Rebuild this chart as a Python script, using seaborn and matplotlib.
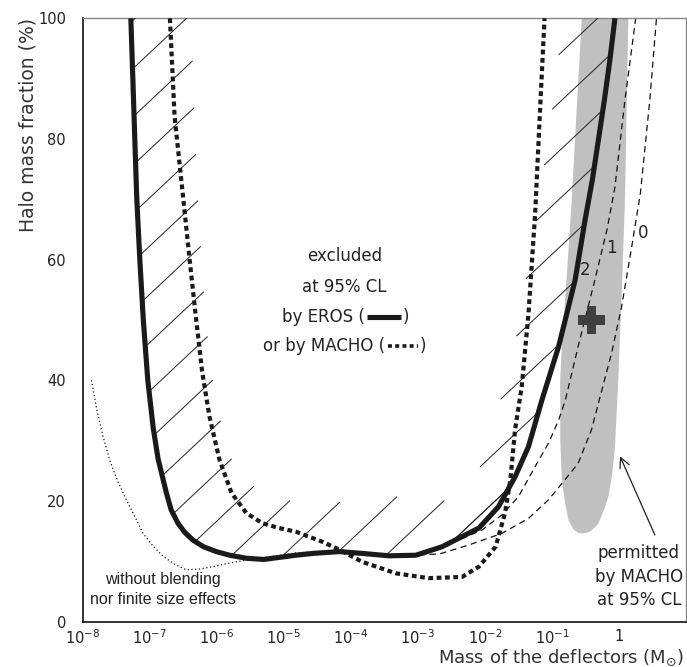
import numpy as np
import pandas as pd
import matplotlib
matplotlib.use("Agg")
import matplotlib.pyplot as plt
from matplotlib.ticker import NullLocator, FixedLocator, FixedFormatter
import seaborn as sns

# ---------------- data (log10 of mass in solar masses, halo fraction in %) ----------------
eros_logm = [-7.283, -7.253, -7.224, -7.194, -7.149, -7.097, -7.030, -6.948, -6.877, -6.752,
             -6.681, -6.580, -6.480, -6.356, -6.197, -6.008, -5.81, -5.562, -5.30, -4.82,
             -4.57, -4.17, -3.83, -3.43, -3.03, -2.64, -2.09, -1.80, -1.55, -1.35, -1.15,
             -0.90, -0.654, -0.505, -0.397, -0.307, -0.218, -0.136, -0.06]
eros_frac = [100, 90, 80, 70, 60, 50, 40, 32, 27, 21.3,
             18.5, 16.3, 14.8, 13.5, 12.4, 11.6, 11.0, 10.5, 10.3, 11.0,
             11.3, 11.6, 11.3, 10.9, 11.0, 12.4, 15.5, 19.0, 24.0, 29.0, 36.7,
             45.6, 56.6, 66.6, 73.2, 79.8, 86.4, 93.0, 100]

macho_logm = [-6.70, -6.63, -6.50, -6.40, -6.33, -6.22, -6.11, -5.96, -5.78, -5.56, -5.32,
              -5.07, -4.82, -4.42, -4.17, -3.83, -3.33, -2.84, -2.34, -2.09, -1.84, -1.70,
              -1.62, -1.55, -1.45, -1.35, -1.25, -1.17, -1.11]
macho_frac = [100, 83.7, 70, 59.4, 52.2, 41.5, 34, 26.8, 21.3, 18, 16.3,
              15.5, 14.9, 13.2, 11.9, 9.9, 8.0, 7.2, 7.4, 9.1, 12.4, 18,
              23.5, 31.8, 39, 51, 67.7, 86.5, 100]

noblend_logm = [-7.87, -7.83, -7.79, -7.70, -7.60, -7.48, -7.35, -7.22, -7.10, -6.95, -6.80,
                -6.63, -6.46, -6.26, -6.06, -5.81, -5.56, -5.30, -4.82, -4.40]
noblend_frac = [40, 37.5, 35.1, 30.8, 26.8, 23.3, 20.2, 17.3, 14.6, 12.5, 10.8,
                9.5, 8.6, 8.7, 9.1, 9.7, 10.2, 10.6, 11.4, 11.6]

curve0_logm = [-3.30, -2.68, -2.24, -1.75, -1.35, -1.05, -0.85, -0.61, -0.41, -0.24, -0.11,
               0.04, 0.19, 0.32, 0.46, 0.56]
curve0_frac = [10.9, 11.2, 12.7, 14.6, 17.1, 20.2, 22.9, 26.2, 31.8, 39, 44.5,
               52.2, 62.1, 71, 86.4, 100]

curve1_logm = [-2.50, -2.04, -1.745, -1.50, -1.25, -1.05, -0.90, -0.80, -0.60, -0.36, -0.18,
               -0.06, 0.09, 0.25]
curve1_frac = [13.0, 15.2, 17.7, 20.7, 25.7, 29.6, 33.4, 36.7, 46.0, 56.6, 64.9,
               72, 86.5, 100]

permitted_logm = [-0.555, -0.63, -0.704, -0.78, -0.853, -0.877, -0.875, -0.853, -0.80, -0.753,
                  -0.68, -0.61, -0.555, -0.49, -0.42, -0.36, -0.307, -0.23, -0.158, -0.10,
                  -0.059, -0.01, 0.04, 0.09, 0.14]
permitted_frac = [100, 85, 70, 57, 45.6, 40, 30, 23.5, 19.5, 16.8,
                  15.3, 14.7, 14.6, 14.7, 15.0, 15.6, 16.3, 18.3, 20.7, 24.5,
                  29, 40, 53.9, 69.9, 100]

best_logm = [-0.41]
best_frac = [50]

curve_labels = ["2", "1", "0"]
curve_label_logm = [-0.50, -0.11, 0.36]
curve_label_frac = [58.2, 61.9, 64.4]

xtick_exp = [-8, -7, -6, -5, -4, -3, -2, -1, 0, 1]
xtick_labels = [r"$10^{-8}$", r"$10^{-7}$", r"$10^{-6}$", r"$10^{-5}$", r"$10^{-4}$",
                r"$10^{-3}$", r"$10^{-2}$", r"$10^{-1}$", "1", ""]
ytick_vals = [0, 20, 40, 60, 80, 100]
ytick_labels = ["0", "20", "40", "60", "80", "100"]


def m(logs):
    return np.power(10.0, np.asarray(logs, dtype=float))


sns.set_theme(style="white")
plt.rcParams['font.family'] = ['DejaVu Sans']
plt.rcParams['mathtext.fontset'] = 'dejavusans'

fig = plt.figure(figsize=(6.87, 6.67), dpi=100)
ax = fig.add_axes([0.1205, 0.0681, 0.878, 0.9045])
ax.set_xscale('log')
ax.set_xlim(1e-8, 1e1)
ax.set_ylim(0, 100)

# permitted region (grey)
ax.fill(m(permitted_logm), permitted_frac, color='#c0c0c0', lw=0, zorder=1)

# thin theoretical curves
sns.lineplot(x=m(noblend_logm), y=noblend_frac, ax=ax, sort=False, estimator=None,
             color='#111111', lw=0.9, linestyle=(0, (1, 2)), zorder=2)
sns.lineplot(x=m(curve0_logm), y=curve0_frac, ax=ax, sort=False, estimator=None,
             color='#111111', lw=0.9, linestyle=(0, (5, 3.5)), zorder=2)
sns.lineplot(x=m(curve1_logm), y=curve1_frac, ax=ax, sort=False, estimator=None,
             color='#111111', lw=0.9, linestyle=(0, (5, 3.5)), zorder=2)

# MACHO (thick dotted) and EROS (thick solid)
macho_style = dict(color='#1a1a1a', lw=3.0, linestyle=(0, (1.15, 0.85)))
eros_style = dict(color='#1a1a1a', lw=3.7, solid_capstyle='butt', solid_joinstyle='round')
sns.lineplot(x=m(macho_logm), y=macho_frac, ax=ax, sort=False, estimator=None,
             zorder=4, **macho_style)
sns.lineplot(x=m(eros_logm), y=eros_frac, ax=ax, sort=False, estimator=None,
             zorder=5, **eros_style)

# best-fit cross
sns.scatterplot(x=m(best_logm), y=best_frac, ax=ax, marker='P', s=20 ** 2,
                color='#404040', edgecolor='none', zorder=6)

# ---------- hatching of the EROS excluded region (segments starting on the contour) ----------
slope = 0.94
spacing = 48.3
seg_len = 80.0
pts = ax.transData.transform(np.c_[m(eros_logm), eros_frac])
d0 = pts[0] - pts[1]
d0 = d0 / np.hypot(*d0)
d1 = pts[-1] - pts[-2]
d1 = d1 / np.hypot(*d1)
pts = np.vstack([pts[0] + 600 * d0, pts, pts[-1] + 600 * d1])
u = np.array([1.0, slope])
u = u / np.hypot(*u)
bb = ax.bbox
b_ref = bb.y0 + 505.8 - slope * bb.x0
inv = ax.transData.inverted()
for k in range(-2, 40):
    b = b_ref - k * spacing
    f = pts[:, 1] - slope * pts[:, 0] - b
    hits = []
    for i in range(len(pts) - 1):
        if f[i] == 0 or f[i] * f[i + 1] < 0:
            t = f[i] / (f[i] - f[i + 1])
            p = pts[i] + t * (pts[i + 1] - pts[i])
            T = pts[i + 1] - pts[i]
            entry = (-T[1] + slope * T[0]) > 0
            hits.append((p[0], p, entry))
    hits.sort(key=lambda h: h[0])
    for j, (hx, p, entry) in enumerate(hits):
        if entry:
            q = p + seg_len * u
            for h2 in hits[j + 1:]:
                if not h2[2]:
                    if h2[0] < q[0]:
                        q = h2[1]
                    break
            a, c = p, q
        else:
            q = p - seg_len * u
            for h2 in reversed(hits[:j]):
                if h2[2]:
                    if h2[0] > q[0]:
                        q = h2[1]
                    break
            a, c = q, p
        dd = inv.transform(np.vstack([a, c]))
        ax.plot(dd[:, 0], dd[:, 1], color='#222222', lw=0.7, zorder=3)

# ---------------- text ----------------
tc = '#222222'
ax.text(0.4347, 0.606, "excluded", transform=ax.transAxes, ha='center', va='center',
        fontsize=12, color=tc)
ax.text(0.4330, 0.5551, "at 95% CL", transform=ax.transAxes, ha='center', va='center',
        fontsize=12, color=tc)
ax.text(0.4678, 0.5054, "by EROS (", transform=ax.transAxes, ha='right', va='center',
        fontsize=12, color=tc)
ax.text(0.530, 0.5054, ")", transform=ax.transAxes, ha='left', va='center',
        fontsize=12, color=tc)
ax.plot([0.4705, 0.5280], [0.5054, 0.5054], transform=ax.transAxes, clip_on=False, **eros_style)
ax.text(0.5018, 0.4573, "or by MACHO (", transform=ax.transAxes, ha='right', va='center',
        fontsize=12, color=tc)
ax.text(0.559, 0.4573, ")", transform=ax.transAxes, ha='left', va='center',
        fontsize=12, color=tc)
ax.plot([0.5065, 0.5565], [0.4573, 0.4573], transform=ax.transAxes, clip_on=False,
        color='#1a1a1a', lw=2.6, linestyle=(0, (1.1, 0.9)))

ax.text(0.1335, 0.069, "without blending", transform=ax.transAxes, ha='center', va='center',
        fontsize=11.5, color=tc, family=['Liberation Sans'])
ax.text(0.1335, 0.037, "nor finite size effects", transform=ax.transAxes, ha='center',
        va='center', fontsize=11.5, color=tc, family=['Liberation Sans'])

for i, txt in enumerate(["permitted", "by MACHO", "at 95% CL"]):
    ax.text(0.922, [0.1142, 0.0744, 0.0358][i], txt, transform=ax.transAxes, ha='center',
            va='center', fontsize=12, color=tc)

for lab, lx, ly in zip(curve_labels, curve_label_logm, curve_label_frac):
    ax.text(m(lx), ly, lab, ha='center', va='center', fontsize=12, color=tc, zorder=7)

ax.annotate("", xy=(m(0.016), 27.4), xytext=(m(0.536), 14.35),
            arrowprops=dict(arrowstyle='->', lw=0.9, color=tc, mutation_scale=18,
                            shrinkA=0, shrinkB=0))

# ---------------- axes styling ----------------
ax.xaxis.set_major_locator(FixedLocator(m(xtick_exp)))
ax.xaxis.set_major_formatter(FixedFormatter(xtick_labels))
ax.xaxis.set_minor_locator(NullLocator())
ax.set_yticks(ytick_vals)
ax.set_yticklabels(ytick_labels)
ax.tick_params(axis='both', which='major', direction='in', length=11, width=1,
               color='#555555', labelsize=10.5, labelcolor=tc)
ax.tick_params(axis='x', pad=5)
ax.tick_params(axis='y', pad=12)

for side in ['left', 'bottom']:
    ax.spines[side].set_color('#111111')
    ax.spines[side].set_linewidth(1.2)
for side in ['top', 'right']:
    ax.spines[side].set_color('#888888')
    ax.spines[side].set_linewidth(1.0)

ax.set_xlabel(r"Mass of the deflectors (M$_{\odot}$)", fontsize=13, color='#333333', loc='right')
ax.xaxis.set_label_coords(0.9967, -0.043)
ax.set_ylabel("Halo mass fraction (%)", fontsize=13.5, color='#333333', loc='top')
ax.yaxis.set_label_coords(-0.075, 1.0)

fig.savefig("out.png", dpi=100)
